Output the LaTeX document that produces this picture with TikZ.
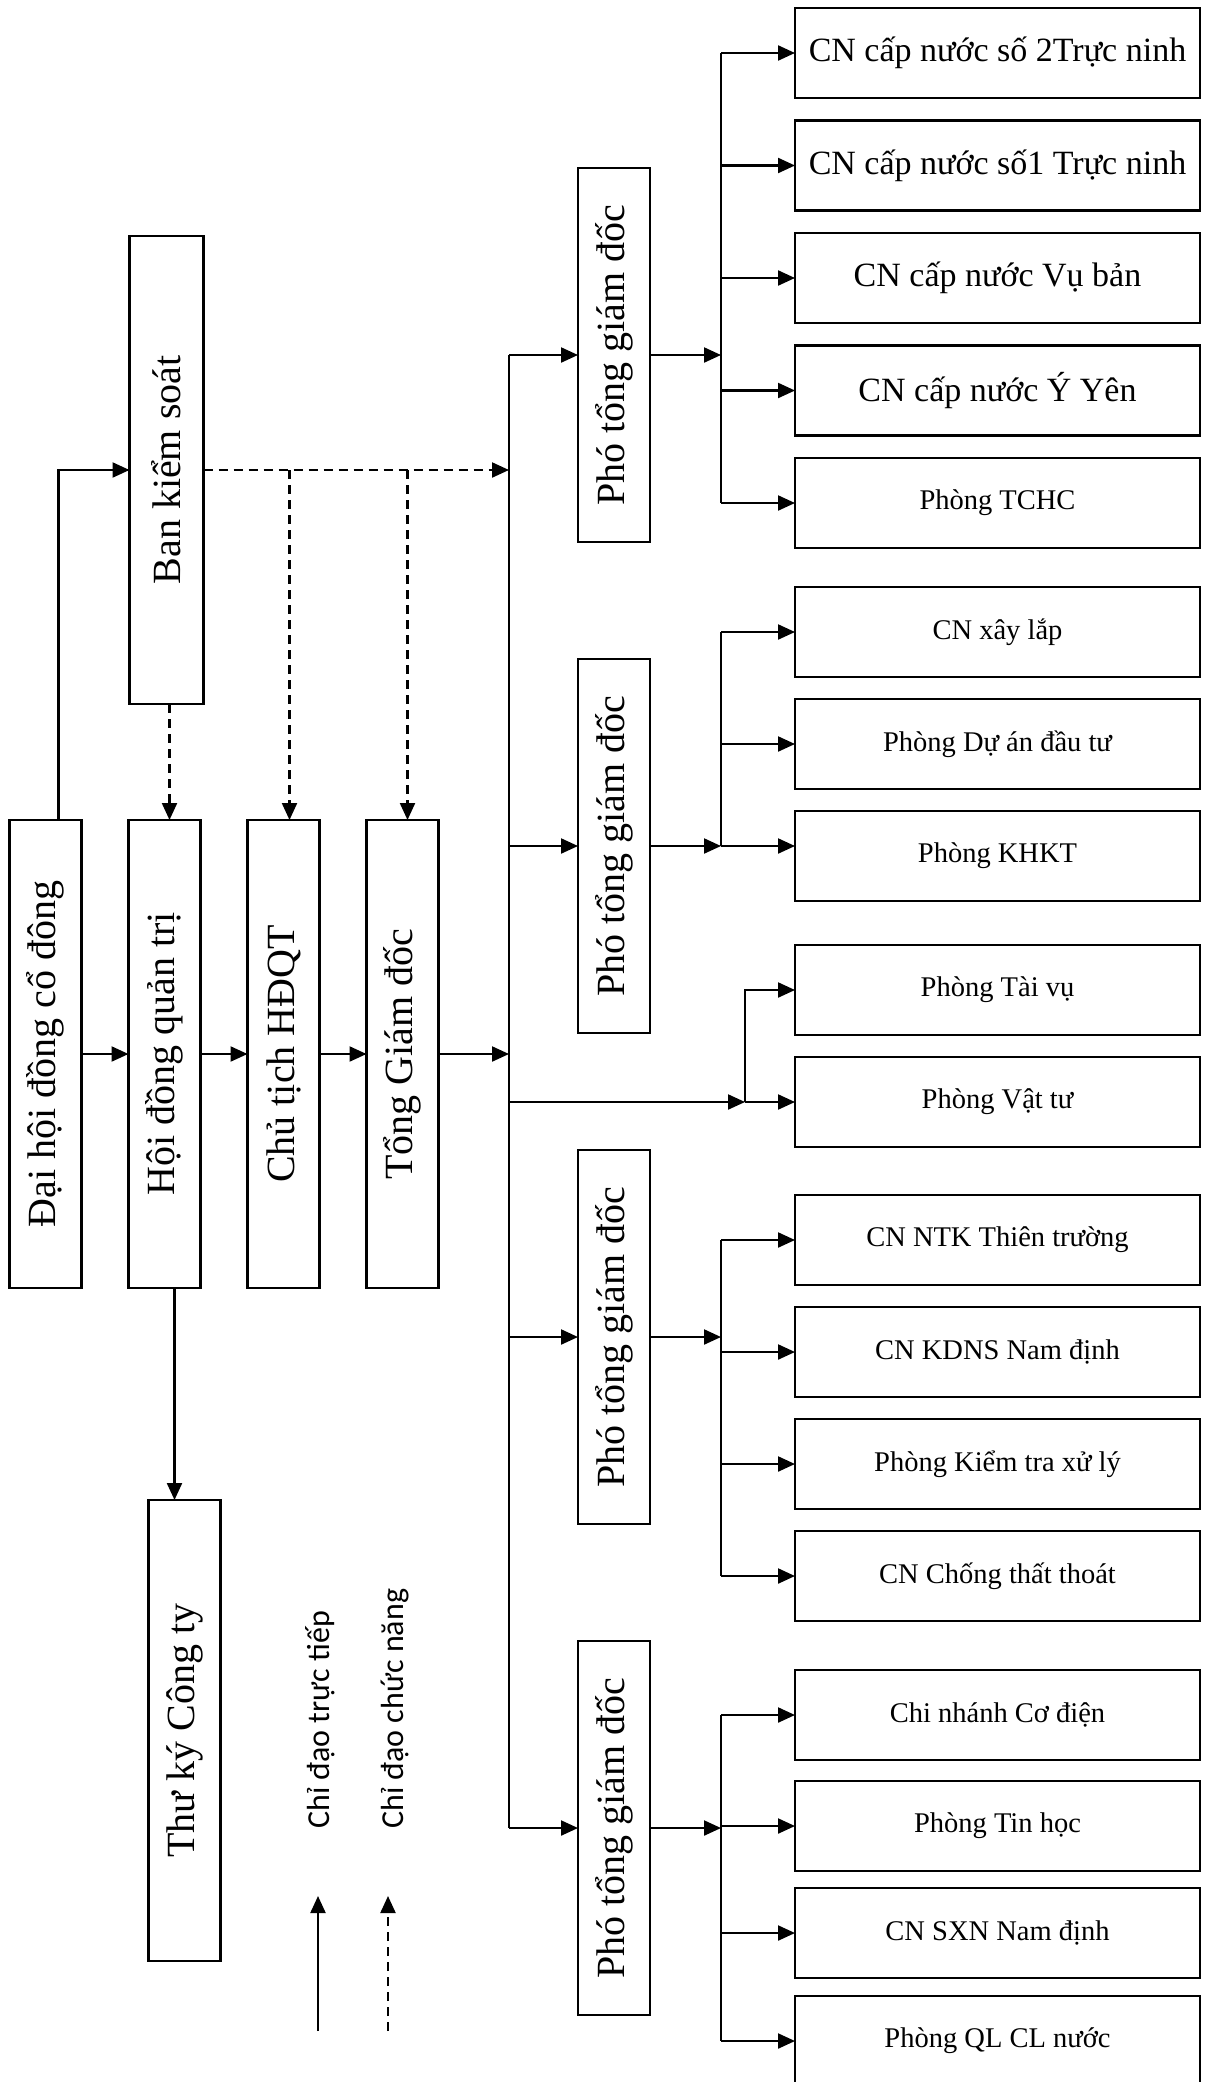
\documentclass[tikz,border=0pt]{standalone}
\usepackage{fontspec}
\setmainfont{Liberation Serif}
\newfontfamily\legendfont{Carlito}
\usepackage{graphicx}
\usepackage{tikz}
\usetikzlibrary{positioning, arrows.meta}

\begin{document}
\begin{tikzpicture}[x=1pt, y=-1pt,
    vbox/.style={draw, line width=2.6pt, outer sep=0pt, inner sep=0pt, minimum width=72pt, minimum height=468pt, font=\fontsize{40}{48}\selectfont},
    pbox/.style={vbox, minimum height=374pt},
    unit/.style={draw, line width=2.6pt, outer sep=0pt, inner sep=0pt, minimum width=405pt, minimum height=90pt, font=\fontsize{28.5}{34}\selectfont},
    bigunit/.style={unit, font=\fontsize{34}{40}\selectfont},
    wire/.style={line width=2.2pt},
    link/.style={wire, -{Triangle[length=17pt, width=15pt]}},
    func/.style={link, dash pattern=on 9pt off 6pt},
    legend/.style={inner sep=0pt, rotate=90, anchor=west, font=\legendfont\fontsize{32}{38}\selectfont}]

        \useasboundingbox (0,0) rectangle (1210,2082);

        % lanh dao
        \node[vbox] (dhdcd) at (45.5,1054) {\rotatebox{90}{Đại hội đồng cổ đông}};
        \node[vbox, right=47pt of dhdcd] (hdqt) {\rotatebox{90}{Hội đồng quản trị}};
        \node[vbox, right=47pt of hdqt] (chutich) {\rotatebox{90}{Chủ tịch HĐQT}};
        \node[vbox, right=47pt of chutich] (tgd) {\rotatebox{90}{Tổng Giám đốc}};
        \node[vbox, above=116pt of hdqt, xshift=2pt, minimum width=74pt] (bks) {\rotatebox{90}{Ban kiểm soát}};
        \node[vbox, below=212pt of hdqt, xshift=20pt, minimum height=461pt] (thuky) {\rotatebox{90}{Thư ký Công ty}};

        % pho tong giam doc
        \node[pbox] (ptgd1) at (614,355) {\rotatebox{90}{Phó tổng giám đốc}};
        \node[pbox, below=117pt of ptgd1] (ptgd2) {\rotatebox{90}{Phó tổng giám đốc}};
        \node[pbox, below=117pt of ptgd2] (ptgd3) {\rotatebox{90}{Phó tổng giám đốc}};
        \node[pbox, below=117pt of ptgd3] (ptgd4) {\rotatebox{90}{Phó tổng giám đốc}};

        % don vi
        \node[bigunit] (cn2) at (997.5,53) {CN cấp nước số 2Trực ninh};
        \node[bigunit, below=22.5pt of cn2] (cn1) {CN cấp nước số1 Trực ninh};
        \node[bigunit, below=22.5pt of cn1] (vuban) {CN cấp nước Vụ bản};
        \node[bigunit, below=22.5pt of vuban] (yyen) {CN cấp nước Ý Yên};
        \node[unit, below=22.5pt of yyen] (tchc) {Phòng TCHC};
        \node[unit, below=39pt of tchc] (xaylap) {CN xây lắp};
        \node[unit, below=22pt of xaylap] (duan) {Phòng Dự án đầu tư};
        \node[unit, below=22pt of duan] (khkt) {Phòng KHKT};
        \node[unit, below=44pt of khkt] (taivu) {Phòng Tài vụ};
        \node[unit, below=22pt of taivu] (vattu) {Phòng Vật tư};
        \node[unit, below=48pt of vattu] (ntk) {CN NTK Thiên trường};
        \node[unit, below=22pt of ntk] (kdns) {CN KDNS Nam định};
        \node[unit, below=22pt of kdns] (kiemtra) {Phòng Kiểm tra xử lý};
        \node[unit, below=22pt of kiemtra] (chongtt) {CN Chống thất thoát};
        \node[unit, below=49pt of chongtt] (codien) {Chi nhánh Cơ điện};
        \node[unit, below=21pt of codien] (tinhoc) {Phòng Tin học};
        \node[unit, below=17pt of tinhoc] (sxn) {CN SXN Nam định};
        \node[unit, below=18pt of sxn] (qlcl) {Phòng QL CL nước};

        % chu thich
        \node[legend] (lgdirect) at (320,1829) {Chỉ đạo trực tiếp};
        \node[legend] (lgfunc) at (395,1829) {Chỉ đạo chức năng};

        \coordinate (bus) at (509,355);
        \coordinate (sb) at (721,0);
        \coordinate (jv) at (745,0);
        \coordinate (lgtail) at (318,2031);
        \coordinate (lgtip) at (318,1896);
        \coordinate (lgtail2) at (388,2031);
        \coordinate (lgtip2) at (388,1896);

        % chi dao truc tiep
        \path[link]
        (dhdcd) edge (hdqt)
        (hdqt) edge (chutich)
        (chutich) edge (tgd)
        (tgd) edge (bus |- tgd);
        \draw[link] ([xshift=13pt]dhdcd.north) |- (bks.west);
        \draw[link] ([xshift=10pt]hdqt.south) -- ([xshift=10pt]hdqt.south |- thuky.north);

        \draw[wire] (bus) -- (bus |- ptgd4);
        \path[link]
        (bus) edge (ptgd1)
        (bus |- ptgd2) edge (ptgd2)
        (bus |- ptgd3) edge (ptgd3)
        (bus |- ptgd4) edge (ptgd4)
        (bus |- vattu) edge (jv |- vattu)
        (jv |- vattu) edge (vattu);
        \draw[link] (jv |- vattu) |- (taivu);

        \draw[link] (ptgd1) -- (sb |- ptgd1);
        \draw[wire] (sb |- cn2) -- (sb |- tchc);
        \path[link]
        (sb |- cn2) edge (cn2)
        (sb |- cn1) edge (cn1)
        (sb |- vuban) edge (vuban)
        (sb |- yyen) edge (yyen)
        (sb |- tchc) edge (tchc);

        \draw[link] (ptgd2) -- (sb |- ptgd2);
        \draw[wire] (sb |- xaylap) -- (sb |- ptgd2);
        \path[link]
        (sb |- xaylap) edge (xaylap)
        (sb |- duan) edge (duan)
        (sb |- ptgd2) edge (khkt.west |- ptgd2);

        \draw[link] (ptgd3) -- (sb |- ptgd3);
        \draw[wire] (sb |- ntk) -- (sb |- chongtt);
        \path[link]
        (sb |- ntk) edge (ntk)
        (sb |- kdns) edge (kdns)
        (sb |- kiemtra) edge (kiemtra)
        (sb |- chongtt) edge (chongtt);

        \draw[link] (ptgd4) -- (sb |- ptgd4);
        \draw[wire] (sb |- codien) -- (sb |- qlcl);
        \path[link]
        (sb |- codien) edge (codien)
        (sb |- tinhoc) edge (tinhoc)
        (sb |- sxn) edge (sxn)
        (sb |- qlcl) edge (qlcl);

        % chi dao chuc nang
        \draw[func] (bks) -- (bus |- bks);
        \draw[func] ([xshift=3pt]bks.south) -- ([xshift=3pt]bks.south |- hdqt.north);
        \draw[func] ([xshift=6pt]chutich.north |- bks) -- ([xshift=6pt]chutich.north);
        \draw[func] ([xshift=5pt]tgd.north |- bks) -- ([xshift=5pt]tgd.north);

        \draw[link] (lgtail) -- (lgtip);
        \draw[func] (lgtail2) -- (lgtip2);

\end{tikzpicture}
\end{document}
